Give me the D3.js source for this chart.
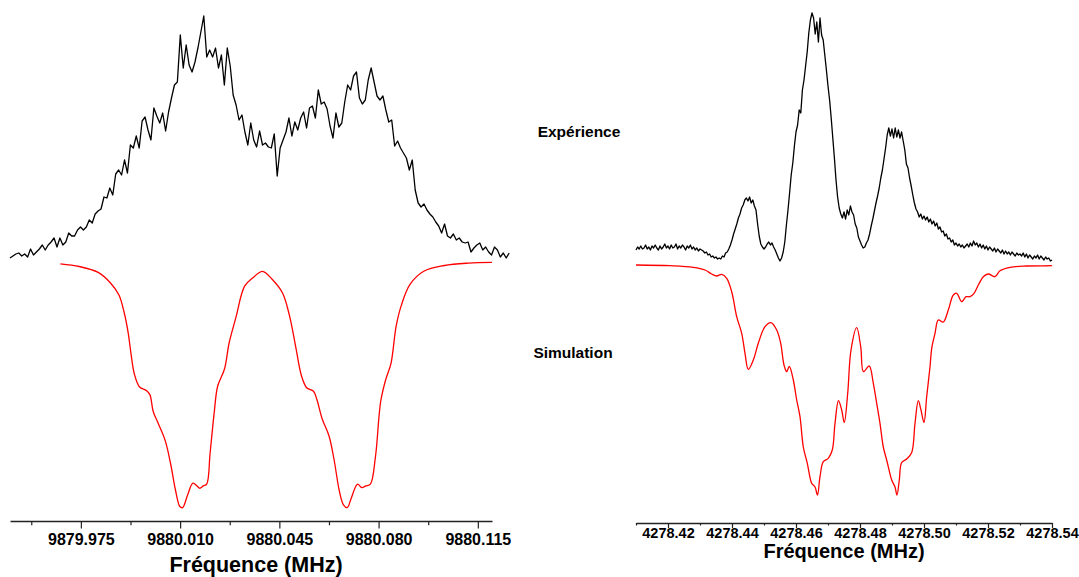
<!DOCTYPE html>
<html>
<head>
<meta charset="utf-8">
<script src="https://cdn.jsdelivr.net/npm/d3@7"></script>
<style>
  html, body { margin: 0; padding: 0; background: #fff; }
  svg { display: block; }
  text { font-family: "Liberation Sans", Arial, Helvetica, sans-serif; font-weight: bold; fill: #000; }
</style>
</head>
<body>
<svg id="chart" width="1079" height="577"></svg>
<script>
// ---- 9880 MHz line ----------------------------------------------------
// measured sweep: start frequency (MHz) and step (MHz); intensities in arb. units
const leftSweepStart = 9879.950;
const leftSweepStep = 0.0010356;
const leftExperience = [
  255,257,259,260,257,259,256,264,258,261,
  264,268,263,268,271,275,266,275,268,271,
  280,277,277,283,286,283,286,293,290,299,
  302,304,316,315,325,318,339,343,338,353,
  340,368,365,377,365,392,396,383,373,405,
  397,390,400,382,401,415,428,431,478,445,
  468,448,441,451,465,481,497,456,463,456,
  465,445,458,428,465,447,418,408,393,398,
  381,368,390,373,366,382,368,370,366,365,
  379,337,365,373,381,395,377,391,383,395,
  401,385,405,407,395,423,409,411,404,387,
  375,400,386,390,411,428,423,437,441,415,
  409,413,433,445,431,417,413,417,403,391,
  393,367,372,365,360,355,343,353,323,310,
  306,309,303,299,296,291,287,280,289,277,
  275,279,273,275,271,270,271,261,265,268,
  270,263,266,261,258,266,263,256,260,255,
  260
];
const leftSimFreq = [
  9879.96775, 9879.97442, 9879.98109, 9879.98536, 9879.98839, 9879.99022, 9879.99167, 9879.99266,
  9879.99386, 9879.99569, 9879.99810, 9879.99933, 9880.00053, 9880.00236, 9880.00480, 9880.00663,
  9880.00843, 9880.00991, 9880.01087, 9880.01270, 9880.01450, 9880.01598, 9880.01693, 9880.01818,
  9880.01937, 9880.02057, 9880.02205, 9880.02325, 9880.02568, 9880.02728, 9880.02971, 9880.03275,
  9880.03578, 9880.03907, 9880.04245, 9880.04612, 9880.04855, 9880.05074, 9880.05279, 9880.05462,
  9880.05705, 9880.05826, 9880.06009, 9880.06252, 9880.06432, 9880.06616, 9880.06761, 9880.06895,
  9880.07039, 9880.07258, 9880.07407, 9880.07551, 9880.07710, 9880.07890, 9880.08074, 9880.08257,
  9880.08436, 9880.08621, 9880.08804, 9880.09108, 9880.09594, 9880.10321, 9880.11172, 9880.11997
];
const leftSimulation = [
  249.2, 246.5, 240.6, 230.3, 218.2, 201.0, 180.4, 159.7,
  139.0, 126.0, 122.5, 118.4, 101.2, 89.1, 71.9, 49.5,
  22.0, 6.5, 5.4, 18.5, 29.9, 27.1, 24.7, 27.1,
  28.8, 59.8, 101.2, 127.0, 144.2, 170.0, 195.9, 226.8,
  235.5, 241.7, 233.7, 220.0, 197.6, 166.6, 137.3, 125.3,
  121.8, 113.2, 94.3, 77.0, 53.0, 22.0, 8.2, 5.4,
  15.1, 28.8, 25.4, 27.1, 28.8, 56.4, 111.5, 133.9,
  149.4, 187.2, 207.9, 228.6, 241.7, 247.5, 249.9, 250.6
];
const leftTicks = [9879.975, 9880.010, 9880.045, 9880.080, 9880.115];
const leftMinorTicks = [9879.9575, 9879.9925, 9880.0275, 9880.0625, 9880.0975];

// ---- 4278 MHz line ----------------------------------------------------
const rightSweepStart = 4278.410;
const rightSweepStep = 0.0005;
const rightExperience = [
  263,266,264,267,264,265,268,264,266,263,267,265,268,265,263,267,264,266,269,265,
  267,264,268,265,266,269,264,267,265,268,266,263,267,265,268,264,266,263,265,262,
  264,
  263,262,260,261,258,259,256,257,255,256,254,255,254,257,256,260,261,264,268,273,
  279,284,289,295,299,305,308,313,315,312,316,310,313,307,303,289,277,269,266,264,
  266,269,271,268,270,266,263,259,255,252,255,261,271,288,303,320,338,350,367,381,
  388,403,400,423,433,447,461,480,493,500,495,479,491,471,495,478,473,458,443,427,
  413,395,375,355,333,316,305,299,295,301,294,303,298,307,301,298,289,285,276,272,
  268,265,266,270,273,279,287,294,302,310,317,325,335,343,354,365,378,385,377,384,
  375,385,376,383,375,381,372,363,349,345,335,327,318,310,304,301,296,299,294,297,
  293,296,291,294,289,292,287,290,284,286,281,282,277,279,274,275,271,273,268,270,
  267,269,266,268,265,267,269,266,270,267,272,268,270,266,269,265,268,264,267,263,
  266,264,262,265,261,264,262,260,263,259,262,259,261,258,261,259,257,260,258,259,
  257,260,256,259,255,258,256,254,257,255,258,254,257,255,253,256,254,255,252,253
];
const rightSimFreq = [
  4278.41000, 4278.42063, 4278.42791, 4278.43156, 4278.43366, 4278.43522, 4278.43678, 4278.43834,
  4278.43991, 4278.44147, 4278.44303, 4278.44406, 4278.44509, 4278.44666, 4278.44822, 4278.45031,
  4278.45219, 4278.45397, 4278.45522, 4278.45625, 4278.45709, 4278.45791, 4278.45916, 4278.46022,
  4278.46125, 4278.46228, 4278.46353, 4278.46491, 4278.46594, 4278.46672, 4278.46750, 4278.46853,
  4278.47009, 4278.47134, 4278.47219, 4278.47328, 4278.47428, 4278.47509, 4278.47616, 4278.47719,
  4278.47897, 4278.48022, 4278.48109, 4278.48288, 4278.48416, 4278.48522, 4278.48625, 4278.48728,
  4278.48834, 4278.48991, 4278.49094, 4278.49156, 4278.49228, 4278.49303, 4278.49459, 4278.49616,
  4278.49719, 4278.49822, 4278.49906, 4278.50000, 4278.50084, 4278.50188, 4278.50241, 4278.50344,
  4278.50447, 4278.50603, 4278.50759, 4278.50916, 4278.51022, 4278.51178, 4278.51313, 4278.51438,
  4278.51563, 4278.51697, 4278.51853, 4278.52009, 4278.52219, 4278.52375, 4278.52688, 4278.53209,
  4278.53991, 4278.54000
];
const rightSimulation = [
  248.0, 247.3, 245.7, 243.0, 239.0, 237.0, 238.7, 234.7,
  221.3, 196.3, 179.7, 159.7, 143.7, 153.0, 169.7, 186.3,
  190.3, 183.0, 169.7, 148.0, 141.3, 146.7, 133.0, 113.0,
  96.3, 66.0, 49.7, 29.7, 26.0, 18.0, 36.3, 51.3,
  54.7, 63.0, 89.7, 112.3, 103.0, 90.5, 119.7, 163.0,
  185.3, 166.3, 141.3, 147.0, 129.7, 109.7, 89.7, 66.0,
  53.0, 33.0, 26.0, 18.0, 33.0, 50.5, 54.0, 60.5,
  89.7, 112.3, 103.0, 90.5, 116.3, 146.3, 164.7, 179.7,
  193.0, 191.0, 203.0, 218.0, 219.7, 211.3, 216.3, 216.3,
  219.7, 228.0, 236.3, 239.0, 236.3, 242.3, 245.7, 247.0,
  247.3, 247.4
];
const rightTicks = [4278.42, 4278.44, 4278.46, 4278.48, 4278.50, 4278.52, 4278.54];
const rightMinorTicks = [4278.41, 4278.43, 4278.45, 4278.47, 4278.49, 4278.51, 4278.53];

const seriesLabels = ["Expérience", "Simulation"];
const axisTitle = "Fréquence (MHz)";

// ---- drawing ------------------------------------------------------------
const svg = d3.select("#chart");
const y = d3.scaleLinear().domain([0, 500]).range([513, 13]);

const sweep = (start, step, values) => values.map((v, i) => [start + i * step, v]);
const pairs = (xs, vs) => xs.map((f, i) => [f, vs[i]]);

function panel(cfg) {
  const x = d3.scaleLinear().domain(cfg.domain).range(cfg.range);

  const rawLine = d3.line().x(d => x(d[0])).y(d => y(d[1]));
  const smoothLine = d3.line().x(d => x(d[0])).y(d => y(d[1]))
    .curve(d3.curveCatmullRom.alpha(0.5));

  svg.append("path")
    .datum(cfg.experience)
    .attr("fill", "none")
    .attr("stroke", "#000")
    .attr("stroke-width", 1.3)
    .attr("stroke-linejoin", "round")
    .attr("d", rawLine);

  svg.append("path")
    .datum(cfg.simulation)
    .attr("fill", "none")
    .attr("stroke", "#ff0000")
    .attr("stroke-width", 1.3)
    .attr("d", smoothLine);

  // minor ticks (unlabelled)
  const gMinor = svg.append("g")
    .attr("transform", `translate(0,${cfg.axisY})`)
    .call(d3.axisBottom(x).tickValues(cfg.minor).tickSize(cfg.minorLen).tickSizeOuter(0).tickFormat(""));
  gMinor.select(".domain").remove();
  gMinor.selectAll(".tick line").attr("stroke", "#222").attr("stroke-width", 1.2);

  // major ticks + axis line
  const gMajor = svg.append("g")
    .attr("transform", `translate(0,${cfg.axisY})`)
    .call(d3.axisBottom(x).tickValues(cfg.ticks).tickSize(cfg.majorLen).tickSizeOuter(0)
      .tickFormat(d3.format(cfg.fmt)));
  gMajor.select(".domain").attr("stroke", "#222").attr("stroke-width", 1.3);
  gMajor.selectAll(".tick line").attr("stroke", "#222").attr("stroke-width", 1.2);
  gMajor.selectAll(".tick text")
    .attr("y", cfg.labelY)
    .attr("dy", null)
    .style("font-family", '"Liberation Sans", Arial, sans-serif')
    .style("font-weight", "bold")
    .style("font-size", cfg.labelSize + "px")
    .attr("fill", "#000");

  svg.append("text")
    .attr("x", cfg.titleX)
    .attr("y", cfg.titleY)
    .attr("text-anchor", "middle")
    .style("font-size", cfg.titleSize + "px")
    .text(axisTitle);
}

panel({
  domain: [9879.95, 9880.12], range: [10, 492],
  experience: sweep(leftSweepStart, leftSweepStep, leftExperience),
  simulation: pairs(leftSimFreq, leftSimulation),
  ticks: leftTicks, minor: leftMinorTicks, fmt: ".3f",
  axisY: 521, majorLen: 7.5, minorLen: 4.3,
  labelY: 24.3, labelSize: 16, titleX: 256, titleY: 571.5, titleSize: 21.5
});

panel({
  domain: [4278.41, 4278.54], range: [636, 1052],
  experience: sweep(rightSweepStart, rightSweepStep, rightExperience),
  simulation: pairs(rightSimFreq, rightSimulation),
  ticks: rightTicks, minor: rightMinorTicks, fmt: ".2f",
  axisY: 523, majorLen: 5, minorLen: 2.5,
  labelY: 14.5, labelSize: 14.5, titleX: 844, titleY: 557.5, titleSize: 20
});

// series captions between the two panels
svg.append("text").attr("x", 579).attr("y", 136.5).attr("text-anchor", "middle")
  .style("font-size", "15.5px").text(seriesLabels[0]);
svg.append("text").attr("x", 573).attr("y", 358).attr("text-anchor", "middle")
  .style("font-size", "15.5px").text(seriesLabels[1]);
</script>
</body>
</html>
